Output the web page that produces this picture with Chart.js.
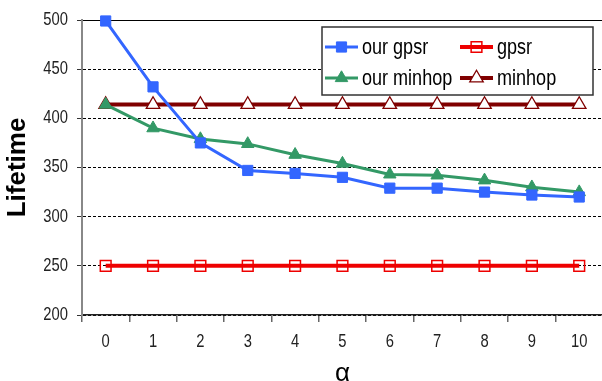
<!DOCTYPE html>
<html><head><meta charset="utf-8">
<script src="https://cdn.jsdelivr.net/npm/chart.js@4/dist/chart.umd.min.js"></script>
<style>html,body{margin:0;padding:0;overflow:hidden;background:#fff}canvas{display:block}</style>
</head><body>
<canvas id="c" width="612" height="381"></canvas>
<script>
const categories = ['0','1','2','3','4','5','6','7','8','9','10'];
const ourGpsr   = [499, 432, 375, 347, 344, 340, 329, 329, 325, 322, 320];
const ourMinhop = [414, 390, 379, 374, 363, 354, 343, 342, 337, 330, 325];
const gpsr      = [250, 250, 250, 250, 250, 250, 250, 250, 250, 250, 250];
const minhop    = [414, 414, 414, 414, 414, 414, 414, 414, 414, 414, 414];
const yTicks = [200, 250, 300, 350, 400, 450, 500];
const seriesNames = ['our gpsr', 'our minhop', 'gpsr', 'minhop'];

const FONT = '"Liberation Sans", Arial, sans-serif';
const NARROW = 0.82;
const styles = [
  {color:'#3366FF', width:3, style:'rect', radius:7.2, fill:'#3366FF', pbw:1},
  {color:'#339966', width:3, style:'triangle', radius:7.2, fill:'#339966', pbw:1},
  {color:'#EE0000', width:4, style:'rect', radius:7.6, fill:'rgba(0,0,0,0)', pbw:1.5},
  {color:'#800000', width:4, style:'triangle', radius:7.8, fill:'#ffffff', pbw:1.3}
];
const seriesData = [ourGpsr, ourMinhop, gpsr, minhop];

function narrowText(ctx, text, x, y, font, align, color) {
  ctx.save();
  ctx.translate(x, y);
  ctx.scale(NARROW, 1);
  ctx.font = font;
  ctx.textAlign = align;
  ctx.textBaseline = 'middle';
  ctx.fillStyle = color;
  ctx.fillText(text, 0, 0);
  ctx.restore();
}

function drawMarker(ctx, s, x, y) {
  ctx.save();
  ctx.beginPath();
  if (s.style === 'rect') {
    const h = s.radius * Math.SQRT1_2;
    ctx.rect(x - h, y - h, 2*h, 2*h);
  } else {
    let rad = 0;
    ctx.moveTo(x + Math.sin(rad)*s.radius, y - Math.cos(rad)*s.radius);
    rad += 2*Math.PI/3;
    ctx.lineTo(x + Math.sin(rad)*s.radius, y - Math.cos(rad)*s.radius);
    rad += 2*Math.PI/3;
    ctx.lineTo(x + Math.sin(rad)*s.radius, y - Math.cos(rad)*s.radius);
    ctx.closePath();
  }
  ctx.fillStyle = s.fill; ctx.fill();
  ctx.lineWidth = s.pbw; ctx.strokeStyle = s.color; ctx.stroke();
  ctx.restore();
}

// tick labels drawn in a condensed face, positioned by the chart's own scales
const tickLabelPlugin = {
  id: 'narrowTicks',
  afterDraw(chart) {
    const ctx = chart.ctx;
    const xs = chart.scales.x, ys = chart.scales.y;
    const f = '18px ' + FONT;
    yTicks.forEach(v => {
      narrowText(ctx, String(v), ys.right - 14, ys.getPixelForValue(v), f, 'right', '#222');
    });
    categories.forEach((c, i) => {
      narrowText(ctx, c, xs.getPixelForValue(i), xs.top + 27, f, 'center', '#222');
    });
  }
};

const legendPlugin = {
  id: 'boxLegend',
  afterDraw(chart) {
    const ctx = chart.ctx;
    const x0 = 322, y0 = 27, w = 271, h = 68;
    ctx.save();
    ctx.fillStyle = '#fff';
    ctx.fillRect(x0, y0, w, h);
    ctx.lineWidth = 1.5; ctx.strokeStyle = '#333';
    ctx.strokeRect(x0, y0, w, h);
    const layout = [[0, 325, 47], [2, 460, 47], [1, 325, 78], [3, 460, 78]];
    for (const [i, lx, ly] of layout) {
      const s = styles[i];
      ctx.beginPath();
      ctx.moveTo(lx, ly); ctx.lineTo(lx + 33, ly);
      ctx.lineWidth = s.width; ctx.strokeStyle = s.color; ctx.stroke();
      drawMarker(ctx, s, lx + 16.5, ly);
      narrowText(ctx, seriesNames[i], lx + 37, ly + 1, '22px ' + FONT, 'left', '#000');
    }
    ctx.restore();
  }
};

new Chart(document.getElementById('c'), {
  type: 'line',
  data: {
    labels: categories,
    datasets: seriesData.map((d, i) => ({
      label: seriesNames[i],
      data: d,
      borderColor: styles[i].color,
      backgroundColor: styles[i].fill,
      borderWidth: styles[i].width,
      pointStyle: styles[i].style,
      pointRadius: styles[i].radius,
      pointBackgroundColor: styles[i].fill,
      pointBorderColor: styles[i].color,
      pointBorderWidth: styles[i].pbw,
      tension: 0,
      fill: false,
      clip: false
    }))
  },
  options: {
    responsive: false,
    animation: false,
    layout: {padding: {top: 20, right: 1, left: 0, bottom: 0}},
    plugins: {legend: {display: false}, tooltip: {enabled: false}},
    scales: {
      x: {
        type: 'category',
        offset: true,
        grid: {display: true, drawOnChartArea: false, drawTicks: true, tickLength: 7, offset: true, color: '#666', tickColor: '#666', lineWidth: 1.5},
        border: {display: true, color: '#222', width: 1.5},
        ticks: {display: false},
        title: {display: true, text: 'α', color: '#000', font: {family: FONT, size: 26}, padding: {top: 0, bottom: -8}},
        afterFit(scale) { scale.height = 66; }
      },
      y: {
        min: 200, max: 500,
        afterBuildTicks(scale) { scale.ticks = yTicks.map(v => ({value: v})); },
        grid: {
          color: '#000', lineWidth: 1, drawTicks: true, tickLength: 5,
          tickColor: '#333', tickBorderDash: []
        },
        border: {display: true, color: '#888', width: 2,
          dash: ctx => (ctx.tick && ctx.tick.value === 500) ? [] : [3, 2]},
        ticks: {display: false},
        title: {display: true, text: 'Lifetime', color: '#000', font: {family: FONT, size: 26, weight: 'bold'}, padding: {top: 2, bottom: 0}},
        afterFit(scale) { scale.width = 82; }
      }
    }
  },
  plugins: [tickLabelPlugin, legendPlugin]
});
</script>
</body></html>
